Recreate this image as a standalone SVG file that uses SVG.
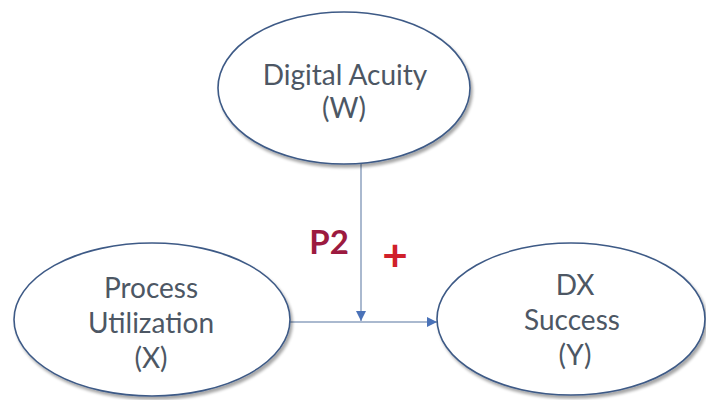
<svg xmlns="http://www.w3.org/2000/svg" width="706" height="400" viewBox="0 0 706 400">
  <style>
    .node ellipse { fill: #ffffff; stroke: #3e5a86; stroke-width: 1.6; filter: url(#shadow); }
    .label { font-family: Lato, "Open Sans", sans-serif; font-size: 28px; fill: #4d5764; text-anchor: middle; }
    .wire { stroke: #8ea2bf; stroke-width: 1.5; fill: none; }
  </style>
  <defs>
    <filter id="shadow" x="-10%" y="-10%" width="125%" height="130%">
      <feGaussianBlur in="SourceAlpha" stdDeviation="1.5"/>
      <feOffset dx="1.5" dy="2.5" result="b"/>
      <feComponentTransfer><feFuncA type="linear" slope="0.35"/></feComponentTransfer>
      <feMerge><feMergeNode/><feMergeNode in="SourceGraphic"/></feMerge>
    </filter>
    <marker id="arrow" viewBox="0 0 10 10" refX="10" refY="5" markerWidth="10" markerHeight="10" markerUnits="userSpaceOnUse" orient="auto">
      <path d="M0,0 L10,5 L0,10 Z" fill="#4a72b8"/>
    </marker>
  </defs>
  <rect width="706" height="400" fill="#ffffff"/>

  <g id="connectors">
    <line class="wire" x1="290" y1="322" x2="437" y2="322" marker-end="url(#arrow)"/>
    <line class="wire" x1="361" y1="164" x2="361" y2="321" marker-end="url(#arrow)"/>
  </g>

  <g id="node-w" class="node">
    <ellipse cx="344" cy="88" rx="126" ry="76"/>
    <text class="label" x="345" y="85">Digital Acuity</text>
    <text class="label" x="344" y="118">(W)</text>
  </g>

  <g id="node-x" class="node">
    <ellipse cx="152" cy="319.5" rx="138" ry="76.5"/>
    <text class="label" x="151" y="298">Process</text>
    <text class="label" x="151" y="333">Utilization</text>
    <text class="label" x="151" y="368">(X)</text>
  </g>

  <g id="node-y" class="node">
    <ellipse cx="571" cy="319" rx="134" ry="76"/>
    <text class="label" x="575" y="295">DX</text>
    <text class="label" x="572" y="330">Success</text>
    <text class="label" x="575" y="365">(Y)</text>
  </g>

  <g id="path-label">
    <text x="329" y="254" font-family="Lato, sans-serif" font-weight="bold" font-size="33" fill="#9c1a40" text-anchor="middle">P2</text>
    <text x="395" y="271" font-family="Lato, sans-serif" font-weight="bold" font-size="44" fill="#d0202a" text-anchor="middle">+</text>
  </g>
</svg>
